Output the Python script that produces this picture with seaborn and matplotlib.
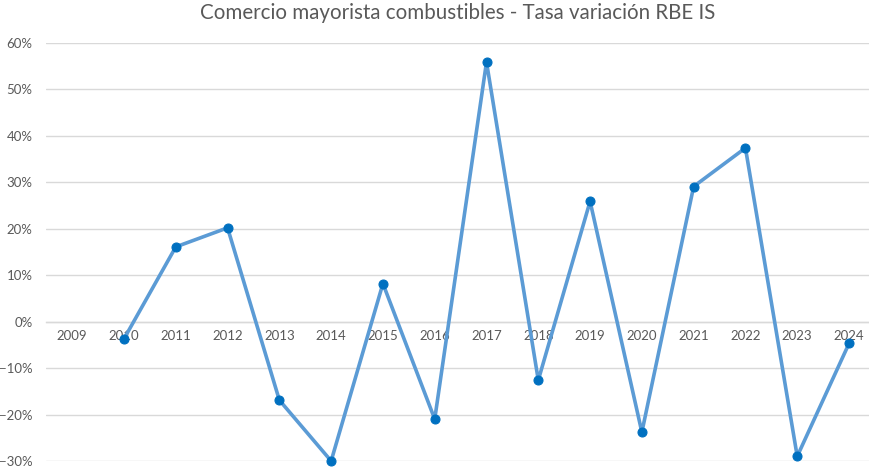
import numpy as np
import pandas as pd
import matplotlib
matplotlib.use('Agg')
import matplotlib.pyplot as plt
import seaborn as sns
from matplotlib.ticker import PercentFormatter

# Data (2009 has no value)
years = list(range(2009, 2025))
tasa = [np.nan, -3.7, 16.1, 20.2, -16.9, -30.0, 8.2, -21.0,
        55.9, -12.6, 25.9, -23.8, 29.1, 37.4, -29.0, -4.7]

df = pd.DataFrame({'year': years, 'tasa': tasa})

sns.set_theme(style='white')
plt.rcParams['font.family'] = ['Lato', 'DejaVu Sans']

fig = plt.figure(figsize=(8.69, 4.73), dpi=100)
ax = fig.add_axes([0.0533, 0.0254, 0.9535, 0.8837])

sns.lineplot(data=df, x='year', y='tasa', ax=ax, color='#5B9BD5', linewidth=2.6,
             marker='o', markersize=6.5, markerfacecolor='#0070C0',
             markeredgecolor='#0070C0', zorder=3, clip_on=False)

ax.set_xlim(2008.5, 2024.5)
ax.set_ylim(-30, 60)
ax.set_yticks(np.arange(-30, 61, 10))
ax.yaxis.set_major_formatter(PercentFormatter(decimals=0))
ax.set_xticks(years)
ax.set_xticklabels([str(y) for y in years])

ax.set_axisbelow(True)
ax.grid(axis='y', color='#D9D9D9', linewidth=1)
ax.grid(axis='x', visible=False)
for s in ['top', 'right', 'left']:
    ax.spines[s].set_visible(False)
ax.spines['bottom'].set_position(('data', 0))
ax.spines['bottom'].set_color('#D9D9D9')
ax.spines['bottom'].set_linewidth(1)
ax.tick_params(axis='both', length=0, labelsize=9.5, labelcolor='#595959')
ax.tick_params(axis='x', pad=6)
ax.tick_params(axis='y', pad=10)
ax.set_xlabel('')
ax.set_ylabel('')

fig.text(0.527, 0.972, 'Comercio mayorista combustibles - Tasa variación RBE IS',
         ha='center', va='center', fontsize=14.8, color='#595959')

fig.savefig('out.png', dpi=100)
